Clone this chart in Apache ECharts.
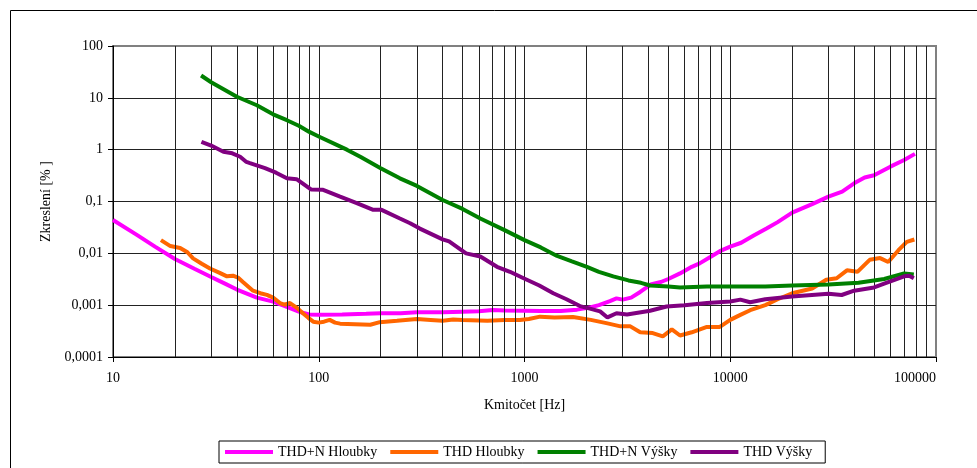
<!DOCTYPE html>
<html>
<head>
<meta charset="utf-8">
<title>Zkreslení</title>
<script src="https://cdn.jsdelivr.net/npm/echarts@6/dist/echarts.min.js"></script>
<style>
  html, body { margin: 0; padding: 0; background: #fff; }
  #chart { width: 977px; height: 468px; }
</style>
</head>
<body>
<div id="chart"></div>
<script>
// Tick labels (Czech decimal comma)
const xTickLabels = ['10', '100', '1000', '10000', '100000'];
const yTickLabels = ['0,0001', '0,001', '0,01', '0,1', '1', '10', '100'];

const seriesNames = ['THD+N Hloubky', 'THD Hloubky', 'THD+N Výšky', 'THD Výšky'];

// THD+N Hloubky
const thdnLowFreq = [10, 13, 16, 20, 25, 30, 35, 40, 50, 60, 70, 80, 90, 100, 130, 170, 200, 250, 300, 400, 500, 600, 700, 800, 1000, 1200, 1500, 1800, 2100, 2300, 2600, 2800, 3000, 3300, 3650, 4100, 4600, 5000, 5700, 6500, 7100, 8000, 8900, 10000, 11300, 13000, 15000, 17000, 20000, 25000, 30000, 35000, 40000, 45000, 50000, 60000, 70000, 79000];
const thdnLowVal  = [0.044, 0.023, 0.0135, 0.0078, 0.005, 0.0035, 0.0026, 0.002, 0.0014, 0.00117, 0.00093, 0.00075, 0.00066, 0.00065, 0.00066, 0.00068, 0.0007, 0.0007, 0.00073, 0.00073, 0.00075, 0.00076, 0.00081, 0.00079, 0.00078, 0.00077, 0.00077, 0.00082, 0.00091, 0.001, 0.0012, 0.00135, 0.00128, 0.0014, 0.0018, 0.0025, 0.0028, 0.0032, 0.0041, 0.0055, 0.0064, 0.0085, 0.011, 0.0135, 0.016, 0.022, 0.03, 0.04, 0.061, 0.089, 0.124, 0.155, 0.224, 0.29, 0.32, 0.47, 0.63, 0.83];

// THD Hloubky
const thdLowFreq = [17.1, 19, 21.2, 23, 24.5, 27, 29.6, 33, 35.8, 38.3, 40.5, 42.8, 47.9, 52, 56, 60, 64.8, 68, 72.5, 78, 84, 89, 94, 100, 106, 113, 120, 127, 150, 178, 198, 240, 300, 350, 400, 450, 500, 660, 800, 950, 1050, 1190, 1400, 1720, 2100, 2500, 2930, 3270, 3650, 4200, 4700, 5200, 5700, 6500, 7700, 8900, 10000, 11200, 12500, 14800, 17000, 20000, 25000, 29300, 32900, 36900, 41500, 47600, 53500, 58600, 65700, 72100, 78500];
const thdLowVal  = [0.018, 0.0138, 0.0127, 0.0105, 0.008, 0.0063, 0.0051, 0.0042, 0.0036, 0.0037, 0.0034, 0.0028, 0.0019, 0.0017, 0.00158, 0.0014, 0.0011, 0.00102, 0.0011, 0.0009, 0.00069, 0.00057, 0.00048, 0.00046, 0.00048, 0.00052, 0.00046, 0.00044, 0.00043, 0.00042, 0.00047, 0.0005, 0.00054, 0.00052, 0.0005, 0.00053, 0.00052, 0.0005, 0.00052, 0.00052, 0.00054, 0.0006, 0.00058, 0.00059, 0.00052, 0.00045, 0.00039, 0.00039, 0.0003, 0.00029, 0.00025, 0.00034, 0.00026, 0.0003, 0.00038, 0.00038, 0.00052, 0.00065, 0.0008, 0.001, 0.0013, 0.0017, 0.0021, 0.0031, 0.0033, 0.0047, 0.0044, 0.0075, 0.0081, 0.0068, 0.0115, 0.0167, 0.0185];

// THD+N Výšky
const thdnHighFreq = [26.8, 30, 40, 50, 60, 70, 80, 90, 100, 137, 160, 200, 248, 300, 400, 500, 610, 800, 1000, 1200, 1440, 1700, 2010, 2300, 2700, 3200, 3680, 4080, 5000, 5700, 7700, 10000, 14800, 20000, 30000, 42000, 56000, 70000, 78000];
const thdnHighVal  = [27, 20, 10.5, 7.2, 4.8, 3.7, 2.9, 2.2, 1.8, 1.0, 0.72, 0.44, 0.28, 0.2, 0.107, 0.072, 0.047, 0.028, 0.018, 0.013, 0.0089, 0.007, 0.0055, 0.0044, 0.0036, 0.003, 0.0027, 0.0024, 0.0023, 0.0022, 0.0023, 0.0023, 0.0023, 0.0024, 0.0025, 0.0027, 0.0032, 0.0041, 0.0039];

// THD Výšky
const thdHighFreq = [26.9, 30, 34.4, 38, 41.5, 44.5, 46.3, 54.8, 62, 70, 78, 92, 105, 127, 153, 184, 202, 248, 278, 310, 400, 430, 520, 610, 735, 850, 990, 1180, 1380, 1600, 1860, 2100, 2330, 2530, 2800, 3150, 4080, 4900, 6000, 7700, 10000, 11200, 12500, 14800, 20000, 30000, 34800, 40000, 50000, 56000, 70000, 74000, 78000];
const thdHighVal  = [1.42, 1.2, 0.91, 0.85, 0.73, 0.58, 0.55, 0.44, 0.36, 0.28, 0.27, 0.17, 0.168, 0.124, 0.093, 0.069, 0.069, 0.047, 0.038, 0.03, 0.0186, 0.017, 0.01, 0.0087, 0.0055, 0.0044, 0.0033, 0.0024, 0.0017, 0.0013, 0.00096, 0.00085, 0.00076, 0.00058, 0.0007, 0.00066, 0.00078, 0.00094, 0.001, 0.0011, 0.00118, 0.00128, 0.00114, 0.0013, 0.00147, 0.00166, 0.00157, 0.0019, 0.0022, 0.0026, 0.0036, 0.0037, 0.0033];

const colors = ['#FF00FF', '#FF6600', '#008000', '#800080'];
const freqs = [thdnLowFreq, thdLowFreq, thdnHighFreq, thdHighFreq];
const vals = [thdnLowVal, thdLowVal, thdnHighVal, thdHighVal];

// Logarithmic minor grid: 2..9 within each decade
const minorGrid = [];
for (let d = 10; d < 100000; d *= 10) {
  for (let m = 2; m <= 9; m++) minorGrid.push(d * m);
}

const serif = '"Liberation Serif", "Times New Roman", serif';
const fs = 14;
const chart = echarts.init(document.getElementById('chart'), null, { renderer: 'canvas' });

const series = seriesNames.map((name, i) => ({
  name: name,
  type: 'line',
  data: freqs[i].map((f, k) => [f, vals[i][k]]),
  showSymbol: false,
  symbol: 'none',
  lineStyle: { color: colors[i], width: 4 },
  itemStyle: { color: colors[i] },
  z: 3 + i,
  animation: false
}));

series.unshift({
  name: 'minor',
  type: 'line',
  data: [],
  z: 1,
  silent: true,
  animation: false,
  markLine: {
    silent: true,
    symbol: 'none',
    animation: false,
    label: { show: false },
    lineStyle: { color: '#222', width: 1, type: 'solid' },
    data: minorGrid.map(v => ({ xAxis: v }))
  }
});

chart.setOption({
  animation: false,
  backgroundColor: '#fff',
  textStyle: { fontFamily: serif, color: '#000' },
  graphic: [{
    type: 'rect',
    silent: true,
    shape: { x: 10.5, y: 10.5, width: 2000, height: 2000 },
    style: { fill: 'none', stroke: '#000', lineWidth: 1 }
  }],
  grid: {
    left: 113, right: 41, top: 46, bottom: 111,
    show: true, borderColor: '#808080', borderWidth: 2, backgroundColor: '#fff'
  },
  legend: {
    data: seriesNames,
    left: 219, top: 441,
    orient: 'horizontal',
    icon: 'rect',
    itemWidth: 48, itemHeight: 4, itemGap: 13,
    padding: [4, 13, 4, 6],
    borderColor: '#000', borderWidth: 1,
    textStyle: { fontFamily: serif, fontSize: fs, color: '#000' }
  },
  xAxis: {
    type: 'log', logBase: 10, min: 10, max: 100000, interval: 1,
    name: 'Kmitočet [Hz]', nameLocation: 'middle', nameGap: 41,
    nameTextStyle: { fontFamily: serif, fontSize: fs, color: '#000' },
    axisLine: { show: true, lineStyle: { color: '#000', width: 1 } },
    axisTick: { show: true, length: 5, lineStyle: { color: '#000' } },
    axisLabel: {
      fontFamily: serif, fontSize: fs, color: '#000', margin: 14,
      alignMaxLabel: 'right',
      formatter: v => xTickLabels[Math.round(Math.log10(v)) - 1]
    },
    splitLine: { show: true, showMaxLine: false, lineStyle: { color: '#222', width: 1 } }
  },
  yAxis: {
    type: 'log', logBase: 10, min: 0.0001, max: 100, interval: 1,
    name: 'Zkreslení [% ]', nameLocation: 'middle', nameGap: 60, nameRotate: 90,
    nameTextStyle: { fontFamily: serif, fontSize: fs, color: '#000' },
    axisLine: { show: true, lineStyle: { color: '#000', width: 1 } },
    axisTick: { show: true, length: 5, lineStyle: { color: '#000' } },
    axisLabel: {
      fontFamily: serif, fontSize: fs, color: '#000', margin: 10,
      formatter: v => yTickLabels[Math.round(Math.log10(v)) + 4]
    },
    splitLine: { show: true, showMaxLine: false, lineStyle: { color: '#222', width: 1 } }
  },
  series: series
});
</script>
</body>
</html>
